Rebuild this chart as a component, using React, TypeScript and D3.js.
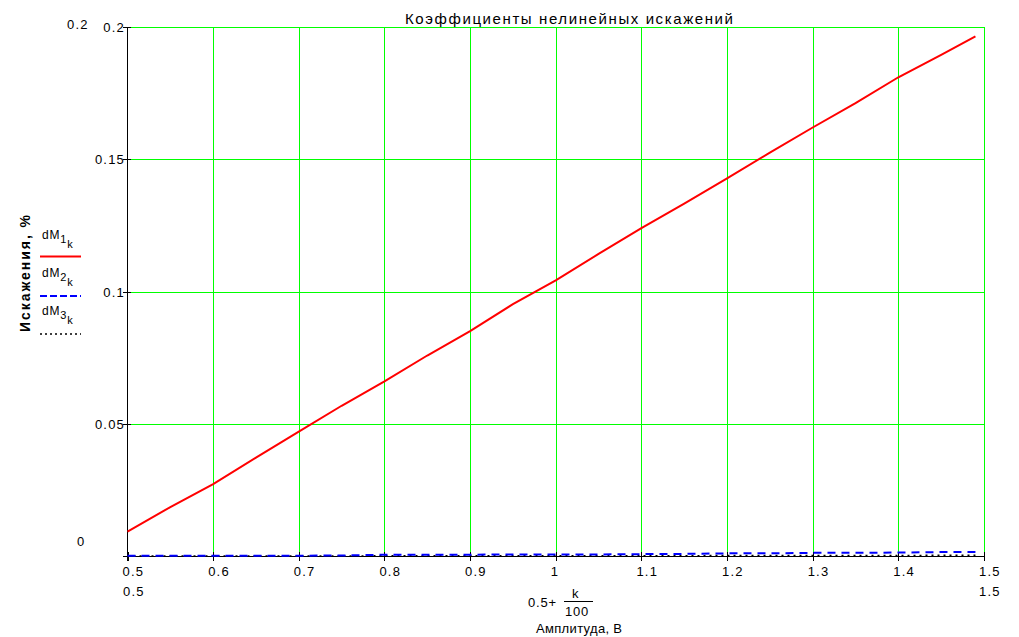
import React from "react";
import * as d3 from "d3";

const xVals = [0.5, 0.55, 0.6, 0.65, 0.7, 0.75, 0.8, 0.85, 0.9, 0.95, 1.0, 1.05, 1.1, 1.15, 1.2, 1.25, 1.3, 1.35, 1.4, 1.45, 1.49];
const dM1 = [0.0092, 0.0185, 0.0272, 0.0372, 0.047, 0.0568, 0.066, 0.0758, 0.085, 0.0952, 0.1042, 0.1142, 0.124, 0.1332, 0.1428, 0.1525, 0.162, 0.1712, 0.181, 0.1895, 0.1965];
const dM2 = [0.0001, 0.0001, 0.0001, 0.0001, 0.0001, 0.0002, 0.0005, 0.0005, 0.0005, 0.0006, 0.0006, 0.0006, 0.0007, 0.0008, 0.001, 0.001, 0.0012, 0.0012, 0.0013, 0.0015, 0.0015];
const dM3 = [0.00002, 0.00002, 0.00002, 0.00003, 0.00003, 0.00004, 0.00005, 0.00006, 0.00007, 0.00008, 0.0001, 0.00011, 0.00012, 0.00013, 0.00015, 0.00016, 0.00018, 0.0002, 0.00022, 0.00025, 0.00027];

const xTicks = [0.5, 0.6, 0.7, 0.8, 0.9, 1.0, 1.1, 1.2, 1.3, 1.4, 1.5];
const xTickLabels = ["0.5", "0.6", "0.7", "0.8", "0.9", "1", "1.1", "1.2", "1.3", "1.4", "1.5"];
const yTicks = [0, 0.05, 0.1, 0.15, 0.2];
const yTickLabels = ["", "0.05", "0.1", "0.15", "0.2"];

const title = "Коэффициенты нелинейных искажений";
const yTitle = "Искажения, %";
const xTitle = "Амплитуда, В";

const FONT = "'Liberation Sans', Arial, sans-serif";

export default function App() {
  const x = d3.scaleLinear().domain([0.5, 1.5]).range([127.5, 984]);
  const y = d3.scaleLinear().domain([0, 0.2]).range([556, 27]);
  const line = (vals: number[]) =>
    d3.line<number>().x((_, i) => x(xVals[i])).y((v) => y(v))(vals) || "";

  const green = "#00ff00";
  return (
    <svg width={1019} height={637} style={{ position: "absolute", left: 0, top: 0, background: "#fff" }} fontFamily={FONT}>
      <rect x={0} y={0} width={1019} height={637} fill="#fff" />
      {/* grid */}
      {xTicks.slice(1).map((t) => (
        <line key={"gx" + t} x1={Math.round(x(t)) + 0.5} x2={Math.round(x(t)) + 0.5} y1={y(0.2)} y2={y(0)} stroke={green} strokeWidth={1} />
      ))}
      {yTicks.slice(1).map((t) => (
        <line key={"gy" + t} x1={x(0.5)} x2={x(1.5)} y1={Math.round(y(t)) + 0.5} y2={Math.round(y(t)) + 0.5} stroke={green} strokeWidth={1} />
      ))}
      {/* axes */}
      <line x1={127.5} x2={127.5} y1={27} y2={561} stroke="#000" strokeWidth={1} />
      <line x1={123} x2={984} y1={556.5} y2={556.5} stroke="#000" strokeWidth={1} />
      {yTicks.map((t) => (
        <line key={"ty" + t} x1={123} x2={131} y1={Math.round(y(t)) + 0.5} y2={Math.round(y(t)) + 0.5} stroke="#000" />
      ))}
      {xTicks.map((t) => (
        <line key={"tx" + t} x1={Math.round(x(t)) + 0.5} x2={Math.round(x(t)) + 0.5} y1={552} y2={561} stroke="#000" />
      ))}
      {/* tick labels */}
      {yTicks.map((t, i) => (
        <text key={"ly" + t} x={125} y={y(t) + 5} textAnchor="end" fontSize={13} letterSpacing={1.2}>
          {yTickLabels[i]}
        </text>
      ))}
      {xTicks.map((t, i) => (
        <text key={"lx" + t} x={x(t) - 5} y={576} fontSize={13} letterSpacing={1.2}>
          {xTickLabels[i]}
        </text>
      ))}
      <text x={123} y={596} fontSize={13} letterSpacing={1.2}>0.5</text>
      <text x={979} y={596} fontSize={13} letterSpacing={1.2}>1.5</text>
      <text x={67} y={29} fontSize={13} letterSpacing={1.2}>0.2</text>
      <text x={77} y={546} fontSize={13}>0</text>

      {/* series */}
      <path d={line(dM3)} fill="none" stroke="#000" strokeWidth={1.5} strokeDasharray="2,4" />
      <path d={line(dM2)} fill="none" stroke="#0000ff" strokeWidth={2} strokeDasharray="8,6" />
      <path d={line(dM1)} fill="none" stroke="#ff0000" strokeWidth={2} />

      {/* title */}
      <text x={405} y={24} fontSize={15} textLength={328} lengthAdjust="spacing">{title}</text>

      {/* y title */}
      <text transform="translate(30,332) rotate(-90)" fontSize={14} fontWeight="bold" textLength={117} lengthAdjust="spacing">{yTitle}</text>

      {/* legend */}
      <text x={42} y={239} fontSize={12} letterSpacing={0.8}>dM<tspan fontSize={11} dy={4}>1</tspan><tspan fontSize={11} dy={5}>k</tspan></text>
      <line x1={40} x2={81} y1={256.5} y2={256.5} stroke="#ff0000" strokeWidth={2} />
      <text x={42} y={277} fontSize={12} letterSpacing={0.8}>dM<tspan fontSize={11} dy={4}>2</tspan><tspan fontSize={11} dy={5}>k</tspan></text>
      <line x1={40} x2={81} y1={296} y2={296} stroke="#0000ff" strokeWidth={2} strokeDasharray="7,3" />
      <text x={42} y={315} fontSize={12} letterSpacing={0.8}>dM<tspan fontSize={11} dy={4}>3</tspan><tspan fontSize={11} dy={5}>k</tspan></text>
      <line x1={40} x2={81} y1={334} y2={334} stroke="#000" strokeWidth={1.5} strokeDasharray="2,3" />

      {/* x title */}
      <text x={528} y={607} fontSize={13} letterSpacing={0.8}>0.5+</text>
      <text x={572} y={598} fontSize={13}>k</text>
      <line x1={564} x2={593} y1={601.5} y2={601.5} stroke="#000" strokeWidth={1} />
      <text x={565} y={616} fontSize={13} letterSpacing={0.8}>100</text>
      <text x={536} y={633} fontSize={13} textLength={86} lengthAdjust="spacing">{xTitle}</text>
    </svg>
  );
}
